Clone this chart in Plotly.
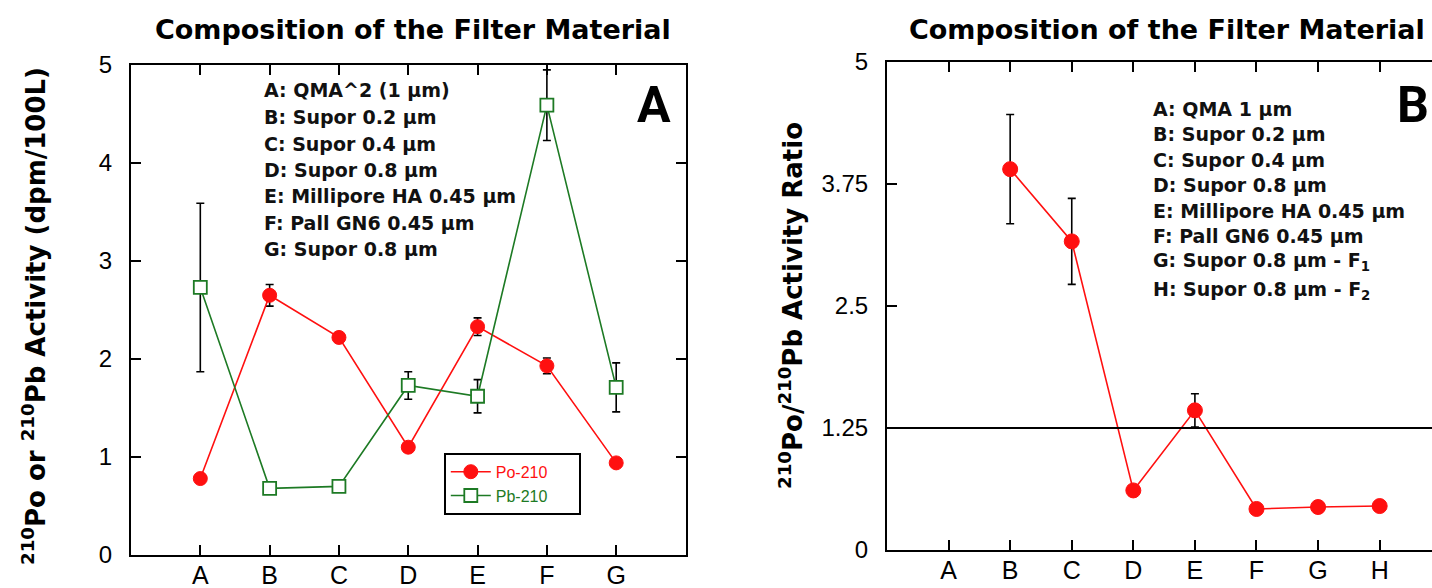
import plotly.graph_objects as go

W, H = 1432, 588

# ---------------- Panel A data ----------------
cats_a = ["A", "B", "C", "D", "E", "F", "G"]
po210 = [0.78, 2.65, 2.22, 1.10, 2.33, 1.93, 0.94]
po210_err = [0.0, 0.11, 0.04, 0.0, 0.09, 0.08, 0.0]
pb210 = [2.73, 0.68, 0.70, 1.73, 1.62, 4.59, 1.71]
pb210_err = [0.86, 0.05, 0.05, 0.14, 0.17, 0.36, 0.25]
legend_names = ["Po-210", "Pb-210"]
notes_a = [
    "A: QMA^2 (1 µm)",
    "B: Supor 0.2 µm",
    "C: Supor 0.4 µm",
    "D: Supor 0.8 µm",
    "E: Millipore HA 0.45 µm",
    "F: Pall GN6 0.45 µm",
    "G: Supor 0.8 µm",
]
yticks_a = [0, 1, 2, 3, 4, 5]

# ---------------- Panel B data ----------------
cats_b = ["A", "B", "C", "D", "E", "F", "G", "H"]
ratio = [None, 3.90, 3.16, 0.61, 1.43, 0.42, 0.44, 0.45]
ratio_err = [None, 0.56, 0.44, 0.0, 0.17, 0.0, 0.0, 0.0]
ratio_ref = 1.25
yticks_b = [0, 1.25, 2.5, 3.75, 5]
yticklabels_b = ["0", "1.25", "2.5", "3.75", "5"]
notes_b = [
    "A: QMA 1 µm",
    "B: Supor 0.2 µm",
    "C: Supor 0.4 µm",
    "D: Supor 0.8 µm",
    "E: Millipore HA 0.45 µm",
    "F: Pall GN6 0.45 µm",
    "G: Supor 0.8 µm - F<sub>1</sub>",
    "H: Supor 0.8 µm - F<sub>2</sub>",
]

TITLE = "Composition of the Filter Material"
RED = "#ff1010"
GREEN = "#1d7a24"
PAD = "\u00a0" * 6


def px(x):
    return x / W


def py(y):
    return 1 - y / H


xa = [i + 1 for i in range(len(cats_a))]
xb = [i + 1 for i in range(len(cats_b))]

fig = go.Figure()

fig.add_trace(go.Scatter(
    x=xa, y=po210, mode="lines+markers", xaxis="x", yaxis="y",
    name=f'<span style="color:{RED}">{legend_names[0]}</span>{PAD}',
    line=dict(color=RED, width=1.6),
    marker=dict(symbol="circle", size=14, color=RED, line=dict(color=RED, width=1)),
    error_y=dict(type="data", array=po210_err, color="black", thickness=1.6, width=4),
))
fig.add_trace(go.Scatter(
    x=xa, y=pb210, mode="lines+markers", xaxis="x", yaxis="y",
    name=f'<span style="color:{GREEN}">{legend_names[1]}</span>{PAD}',
    line=dict(color=GREEN, width=1.6),
    marker=dict(symbol="square", size=13, color="white", line=dict(color=GREEN, width=1.8)),
    error_y=dict(type="data", array=pb210_err, color="black", thickness=1.6, width=4),
))
fig.add_trace(go.Scatter(
    x=xb, y=ratio, mode="lines+markers", xaxis="x2", yaxis="y2", showlegend=False,
    line=dict(color=RED, width=1.6),
    marker=dict(symbol="circle", size=15, color=RED, line=dict(color=RED, width=1)),
    error_y=dict(type="data", array=ratio_err, color="black", thickness=1.6, width=4),
))

axis_common = dict(
    showline=True, linecolor="black", linewidth=2, ticks="inside", ticklen=10,
    tickwidth=1.6, tickcolor="black", showgrid=False, zeroline=False, automargin=False,
)

fig.update_layout(
    width=W, height=H, margin=dict(l=0, r=0, t=0, b=0, autoexpand=False),
    paper_bgcolor="white", plot_bgcolor="white",
    font=dict(family="Liberation Sans, Arial", color="black"),
    xaxis=dict(domain=[px(131), px(685.5)], range=[0, 8], tickvals=xa, ticktext=cats_a,
               mirror="ticks", anchor="y", tickfont=dict(size=25), ticklabelstandoff=-3,
               **axis_common),
    yaxis=dict(domain=[py(555), py(65)], range=[0, 5], tickvals=yticks_a,
               mirror="ticks", anchor="x", tickfont=dict(size=24), ticklabelstandoff=12,
               **axis_common),
    xaxis2=dict(domain=[px(887), 1.0], range=[0, 8.85], tickvals=xb, ticktext=cats_b,
                mirror="ticks", anchor="y2", tickfont=dict(size=25), ticklabelstandoff=-3,
                **axis_common),
    yaxis2=dict(domain=[py(550), py(61.7)], range=[0, 5], tickvals=yticks_b,
                ticktext=yticklabels_b, mirror=False, anchor="x2",
                tickfont=dict(size=24), ticklabelstandoff=12, **axis_common),
    legend=dict(x=px(444), y=py(453), xanchor="left", yanchor="top",
                bordercolor="black", borderwidth=1.8, bgcolor="white",
                font=dict(size=16), tracegroupgap=0, itemwidth=40),
    showlegend=True,
)

fig.add_shape(type="line", xref="x2 domain", yref="y2", x0=0, x1=1,
              y0=ratio_ref, y1=ratio_ref, line=dict(color="black", width=2))

ann = []
title_font = dict(family="DejaVu Sans", size=27, color="black")
ann.append(dict(text=f"<b>{TITLE}</b>", x=px(413), y=py(29), xref="paper", yref="paper",
                xanchor="center", yanchor="middle", showarrow=False, font=title_font))
ann.append(dict(text=f"<b>{TITLE}</b>", x=px(1167), y=py(29), xref="paper", yref="paper",
                xanchor="center", yanchor="middle", showarrow=False, font=title_font))

note_font = dict(family="DejaVu Sans", size=19, color="#111111")
ys_a = [89, 116, 143, 169, 195, 222, 248]
for t, yy in zip(notes_a, ys_a):
    ann.append(dict(text=f"<b>{t}</b>", x=px(262), y=py(yy + 1), xref="paper", yref="paper",
                    xanchor="left", yanchor="middle", showarrow=False, font=note_font))
ys_b = [108, 133, 159, 184, 210, 235, 261, 289]
for t, yy in zip(notes_b, ys_b):
    ann.append(dict(text=f"<b>{t}</b>", x=px(1151), y=py(yy + 1), xref="paper", yref="paper",
                    xanchor="left", yanchor="middle", showarrow=False, font=note_font))

panel_font = dict(family="Roboto", size=50, color="black")
ann.append(dict(text="<b>A</b>", x=px(654), y=py(105), xref="paper", yref="paper",
                xanchor="center", yanchor="middle", showarrow=False, font=panel_font))
ann.append(dict(text="<b>B</b>", x=px(1413), y=py(105), xref="paper", yref="paper",
                xanchor="center", yanchor="middle", showarrow=False, font=panel_font))

ylab_font = dict(family="DejaVu Sans", size=26, color="black")
ann.append(dict(text="<b><sup>210</sup>Po or <sup>210</sup>Pb Activity (dpm/100L)</b>",
                x=px(34), y=py(316), xref="paper", yref="paper", textangle=-90,
                xanchor="center", yanchor="middle", showarrow=False, font=ylab_font))
ann.append(dict(text="<b><sup>210</sup>Po/<sup>210</sup>Pb Activity Ratio</b>",
                x=px(791), y=py(306), xref="paper", yref="paper", textangle=-90,
                xanchor="center", yanchor="middle", showarrow=False, font=ylab_font))

fig.update_layout(annotations=ann)
fig.write_html("out.html")
